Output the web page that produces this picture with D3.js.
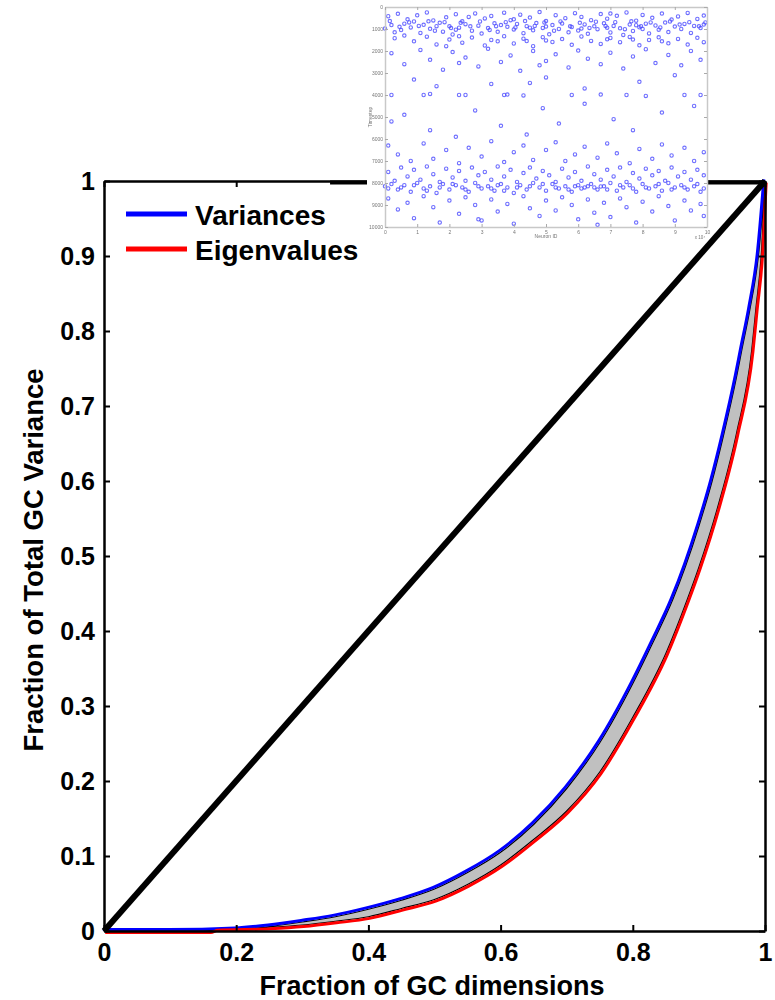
<!DOCTYPE html>
<html>
<head>
<meta charset="utf-8">
<script src="https://cdn.jsdelivr.net/npm/d3@7"></script>
<style>
  html, body { margin: 0; padding: 0; background: #fff; }
  svg { display: block; }
  text { font-family: "Liberation Sans", Arial, sans-serif; }
</style>
</head>
<body>
<svg id="chart" width="775" height="1000"></svg>
<script>
// ---------------- DATA ----------------
const xTicks = [0, 0.2, 0.4, 0.6, 0.8, 1];
const yTicks = [0, 0.1, 0.2, 0.3, 0.4, 0.5, 0.6, 0.7, 0.8, 0.9, 1];
const xLabel = "Fraction of GC dimensions";
const yLabel = "Fraction of Total GC Variance";
const legendLabels = ["Variances", "Eigenvalues"];

// cumulative fraction curves (x = fraction of dimensions, y = fraction of variance)
const variancesX = [0, 0.10, 0.20, 0.25, 0.30, 0.35, 0.40, 0.45, 0.50, 0.55, 0.60, 0.65, 0.70, 0.75, 0.80, 0.83, 0.86, 0.88, 0.90, 0.92, 0.937, 0.957, 0.965, 0.977, 0.990, 1];
const variancesY = [0, 0.000, 0.002, 0.006, 0.012, 0.019, 0.029, 0.041, 0.056, 0.078, 0.105, 0.142, 0.190, 0.251, 0.330, 0.384, 0.441, 0.487, 0.540, 0.600, 0.660, 0.739, 0.775, 0.828, 0.900, 1];
const eigenX = [0, 0.10, 0.160, 0.170, 0.25, 0.30, 0.35, 0.40, 0.45, 0.50, 0.55, 0.60, 0.65, 0.70, 0.75, 0.80, 0.85, 0.882, 0.90, 0.93, 0.957, 0.980, 0.986, 0.995, 1];
const eigenY = [0, 0.000, 0.000, 0.003, 0.005, 0.008, 0.013, 0.019, 0.030, 0.042, 0.062, 0.088, 0.122, 0.160, 0.212, 0.285, 0.370, 0.441, 0.485, 0.570, 0.664, 0.775, 0.828, 0.910, 1];

const diagX = [0, 1];
const diagY = [0, 1];

// inset raster: [neuron ID (x10^4), timestep]
const insetXTicks = [0,1,2,3,4,5,6,7,8,9,10];
const insetYTicks = [0,1000,2000,3000,4000,5000,6000,7000,8000,9000,10000];
const spikesA = [[0.1,420],[0.4,310],[0.7,560],[1.0,380],[1.3,250],[1.5,610],[1.9,470],[2.2,330],[2.4,650],[2.8,290],[3.1,520],[3.3,410],[3.7,260],[3.9,600],[4.2,350],[4.5,480],[4.8,230],[5.0,640],[5.3,370],[5.6,510],[5.9,280],[6.1,450],[6.4,600],[6.7,320],[6.9,530],[7.2,400],[7.5,250],[7.8,620],[8.0,360],[8.3,490],[8.6,300],[8.9,570],[9.1,430],[9.4,270],[9.7,540],[9.9,390],[0.9,660],[2.6,450],[4.0,560],[7.0,300]];
const spikesB = [[0.2,820],[0.5,1050],[0.6,760],[0.8,930],[1.1,1180],[1.2,810],[1.4,990],[1.7,720],[1.8,1120],[2.0,880],[2.1,1250],[2.3,940],[2.5,780],[2.7,1080],[2.9,850],[3.0,1210],[3.2,960],[3.4,740],[3.5,1130],[3.8,900],[4.0,1020],[4.1,770],[4.3,1190],[4.4,870],[4.6,1060],[4.7,730],[4.9,950],[5.1,1240],[5.2,820],[5.4,1000],[5.5,750],[5.7,1150],[5.8,910],[6.0,1070],[6.2,790],[6.3,1220],[6.5,880],[6.6,1010],[6.8,740],[7.0,1160],[7.1,860],[7.3,970],[7.4,1270],[7.6,800],[7.7,1090],[7.9,920],[8.1,760],[8.2,1200],[8.4,840],[8.5,1030],[8.7,710],[8.8,1140],[9.0,890],[9.2,1000],[9.3,770],[9.5,1180],[9.6,860],[9.8,960],[0.3,1150],[1.6,870],[3.6,820],[5.0,890],[6.9,940],[8.0,1000],[9.9,800],[0.0,980],[2.2,1030],[4.5,940],[6.1,980],[7.8,830]];
const spikesB2 = [[0.15,640],[0.45,900],[0.75,700],[1.05,860],[1.35,650],[1.55,1080],[1.85,690],[2.05,960],[2.35,720],[2.65,880],[2.95,660],[3.25,1040],[3.45,870],[3.75,690],[4.05,930],[4.35,640],[4.65,860],[4.95,700],[5.25,1080],[5.45,660],[5.75,880],[6.05,720],[6.35,950],[6.55,670],[6.85,860],[7.15,690],[7.45,1010],[7.65,650],[7.95,870],[8.25,700],[8.55,930],[8.85,660],[9.15,800],[9.45,690],[9.75,880],[9.95,700]];
const spikesC = [[0.3,1420],[0.9,1560],[1.3,1350],[1.6,1700],[2.0,1480],[2.4,1620],[2.7,1390],[3.1,1750],[3.3,1500],[3.7,1330],[4.0,1660],[4.3,1440],[4.6,1780],[4.9,1370],[5.2,1590],[5.5,1460],[5.8,1720],[6.1,1340],[6.4,1540],[6.7,1680],[7.0,1410],[7.3,1600],[7.6,1360],[7.9,1740],[8.2,1500],[8.5,1380],[8.8,1650],[9.1,1450],[9.4,1710],[9.7,1400],[0.6,1300],[1.9,1780],[3.5,1560],[5.0,1520],[6.9,1470],[8.6,1560],[9.9,1600],[2.3,1330],[4.4,1550],[7.7,1480]];
const spikesD = [[0.2,2100],[0.6,2600],[1.1,1950],[1.4,2400],[1.8,2850],[2.1,2050],[2.5,2300],[2.9,2700],[3.2,1900],[3.6,2500],[3.9,2200],[4.2,2900],[4.6,2000],[5.0,2450],[5.3,2150],[5.7,2750],[6.0,1980],[6.3,2350],[6.7,2600],[7.0,2080],[7.4,2800],[7.7,2250],[8.1,1920],[8.4,2550],[8.8,2180],[9.2,2650],[9.5,2000],[9.8,2400],[4.8,2650],[2.3,2550]];
const spikesE = [[0.2,4000],[1.2,4000],[1.4,3950],[2.3,4000],[2.5,4000],[3.7,4000],[3.8,3980],[4.3,4020],[5.8,4000],[6.7,3980],[7.5,4000],[8.1,4040],[9.3,4000],[9.8,4000],[0.9,3300],[3.3,3500],[5.0,3200],[6.2,3700],[7.9,3400],[9.0,3100],[1.6,3600],[4.5,3450]];
const spikesF = [[0.2,5200],[0.6,4900],[1.4,5600],[2.8,4700],[3.6,5400],[4.4,5800],[5.4,5300],[6.2,4400],[7.1,5100],[7.7,5600],[8.6,4800],[9.6,4500],[4.9,4600],[2.2,5900]];
const spikesG = [[0.1,6300],[0.4,6700],[0.8,7000],[1.2,6200],[1.5,6900],[1.9,6500],[2.3,7100],[2.6,6400],[3.0,6800],[3.3,6100],[3.7,7050],[4.0,6600],[4.3,6300],[4.6,6950],[5.0,6500],[5.3,6150],[5.6,7000],[5.9,6700],[6.2,6350],[6.6,6850],[6.9,6200],[7.2,6650],[7.6,7100],[7.9,6450],[8.3,6900],[8.6,6250],[8.9,6750],[9.3,6400],[9.6,7000],[9.9,6600]];
const spikesH = [[0.1,7500],[0.3,7900],[0.5,7300],[0.7,7700],[0.9,7400],[1.1,7850],[1.3,7250],[1.5,7600],[1.7,7950],[1.9,7350],[2.1,7750],[2.3,7450],[2.5,7900],[2.7,7300],[2.9,7650],[3.1,7500],[3.3,7850],[3.5,7250],[3.7,7700],[3.9,7400],[4.1,7950],[4.3,7550],[4.5,7300],[4.7,7800],[4.9,7450],[5.1,7650],[5.3,7950],[5.5,7350],[5.7,7750],[5.9,7500],[6.1,7900],[6.3,7250],[6.5,7600],[6.7,7850],[6.9,7400],[7.1,7700],[7.3,7300],[7.5,7950],[7.7,7550],[7.9,7800],[8.1,7350],[8.3,7650],[8.5,7450],[8.7,7900],[8.9,7300],[9.1,7700],[9.3,7500],[9.5,7850],[9.7,7400],[9.9,7650]];
const spikesI = [[0.0,8150],[0.2,8050],[0.4,8300],[0.6,8100],[0.8,8400],[1.0,8000],[1.2,8250],[1.4,8150],[1.6,8450],[1.8,8050],[2.0,8300],[2.2,8100],[2.4,8200],[2.6,8400],[2.8,8000],[3.0,8250],[3.2,8150],[3.4,8350],[3.6,8050],[3.8,8200],[4.0,8450],[4.2,8100],[4.4,8300],[4.6,8000],[4.8,8200],[5.0,8350],[5.2,8050],[5.4,8250],[5.6,8150],[5.8,8400],[6.0,8100],[6.2,8200],[6.4,8050],[6.6,8300],[6.8,8150],[7.0,8000],[7.2,8350],[7.4,8200],[7.6,8100],[7.8,8400],[8.0,8050],[8.2,8250],[8.4,8150],[8.6,8350],[8.8,8000],[9.0,8200],[9.2,8100],[9.4,8300],[9.6,8150],[9.8,8400],[5.9,8150],[6.3,8150],[6.7,8160],[3.5,8100]];
const spikesI2 = [[0.1,8250],[0.5,8200],[0.9,8100],[1.3,8350],[1.7,8200],[2.1,8050],[2.5,8300],[2.9,8150],[3.3,8250],[3.7,8350],[4.1,8200],[4.5,8150],[4.9,8050],[5.3,8200],[5.7,8300],[6.1,8250],[6.5,8200],[6.9,8300],[7.3,8100],[7.7,8250],[8.1,8200],[8.5,8050],[8.9,8300],[9.3,8200],[9.7,8050],[9.9,8250]];
const spikesJ = [[0.1,8700],[0.4,9200],[0.7,8900],[0.9,9600],[1.2,8600],[1.5,9100],[1.7,9800],[2.0,8800],[2.3,9400],[2.5,8650],[2.8,9000],[3.0,9700],[3.3,8750],[3.5,9300],[3.8,8950],[4.0,9850],[4.3,8600],[4.5,9150],[4.8,9500],[5.0,8800],[5.3,9250],[5.5,8650],[5.8,9000],[6.0,9650],[6.3,8750],[6.5,9350],[6.8,8900],[7.0,9550],[7.3,8700],[7.5,9100],[7.8,9800],[8.0,8850],[8.3,9300],[8.5,8600],[8.8,9050],[9.0,9700],[9.3,8800],[9.5,9250],[9.8,8950],[9.9,9500],[2.9,9650],[6.6,9900]];

// ---------------- DRAW ----------------
const svg = d3.select("#chart");
const x = d3.scaleLinear().domain([0, 1]).range([104, 765]);
const y = d3.scaleLinear().domain([0, 1]).range([931, 181]);
const fmt = d => d3.format("~g")(d);

const variances = variancesX.map((v, i) => [v, variancesY[i]]);
const eigen = eigenX.map((v, i) => [v, eigenY[i]]);
const line = d3.line().x(d => x(d[0])).y(d => y(d[1])).curve(d3.curveMonotoneX);
const straight = d3.line().x(d => x(d[0])).y(d => y(d[1]));

// band between curves
const bandD = line(variances) + "L" + line(eigen.slice().reverse()).slice(1) + "Z";
svg.append("path").attr("d", bandD)
  .attr("fill", "#c0c0c0").attr("stroke", "#000").attr("stroke-width", 1.2);

svg.append("path").attr("d", line(variances)).attr("fill", "none")
  .attr("stroke", "#0000ff").attr("stroke-width", 3).attr("transform", "translate(-1.2,-1.6)");
svg.append("path").attr("d", line(eigen)).attr("fill", "none")
  .attr("stroke", "#ff0000").attr("stroke-width", 3).attr("transform", "translate(1.2,1.6)");

// diagonal
svg.append("path").attr("d", straight(diagX.map((v, i) => [v, diagY[i]])))
  .attr("fill", "none").attr("stroke", "#000").attr("stroke-width", 6);

// axes
function styleAxis(g) {
  g.select(".domain").attr("stroke", "#000").attr("stroke-width", 2.5);
  g.selectAll(".tick line").attr("stroke", "#000").attr("stroke-width", 2);
  g.selectAll(".tick text").attr("fill", "#000").attr("font-size", 25).attr("font-weight", "bold")
    .attr("font-family", "Liberation Sans, Arial, sans-serif");
}
svg.append("g").attr("transform", "translate(0,931)")
  .call(d3.axisBottom(x).tickValues(xTicks).tickFormat(fmt).tickSizeInner(-6).tickSizeOuter(0).tickPadding(12))
  .call(styleAxis);
svg.append("g").attr("transform", "translate(104,0)")
  .call(d3.axisLeft(y).tickValues(yTicks).tickFormat(fmt).tickSizeInner(-6).tickSizeOuter(0).tickPadding(9))
  .call(styleAxis);
svg.append("g").attr("transform", "translate(765,0)")
  .call(d3.axisRight(y).tickValues(yTicks).tickFormat("").tickSizeInner(-6).tickSizeOuter(0))
  .call(styleAxis);
svg.append("g").attr("transform", "translate(0,181)")
  .call(d3.axisTop(x).tickValues(xTicks).tickFormat("").tickSizeInner(-6).tickSizeOuter(0))
  .call(styleAxis);
// heavier segment of the top frame
svg.append("line").attr("x1", x(0.342)).attr("x2", x(1)).attr("y1", y(1) + 1.5).attr("y2", y(1) + 1.5)
  .attr("stroke", "#000").attr("stroke-width", 4);

// axis labels
svg.append("text").attr("x", 432).attr("y", 995).attr("text-anchor", "middle")
  .attr("font-size", 27).attr("font-weight", "bold").text(xLabel);
svg.append("text").attr("transform", "translate(43,560) rotate(-90)").attr("text-anchor", "middle")
  .attr("font-size", 27.5).attr("font-weight", "bold").text(yLabel);

// legend
const legColors = ["#0000ff", "#ff0000"];
legendLabels.forEach((lab, i) => {
  const yy = 214 + i * 35;
  svg.append("line").attr("x1", 126).attr("x2", 187).attr("y1", yy).attr("y2", yy)
    .attr("stroke", legColors[i]).attr("stroke-width", 5);
  svg.append("text").attr("x", 195).attr("y", yy + 11).attr("font-size", 28).attr("font-weight", "bold")
    .attr("fill", "#000").text(lab);
});

// ---------------- INSET ----------------
const defs = svg.append("defs");
defs.append("filter").attr("id", "blur").append("feGaussianBlur").attr("stdDeviation", 0.7);

const inset = svg.append("g");
inset.append("rect").attr("x", 367).attr("y", 0).attr("width", 341).attr("height", 236).attr("fill", "#fff");
const ig = inset.append("g").attr("filter", "url(#blur)");
const ix = d3.scaleLinear().domain([0, 10]).range([385, 707]);
const iy = d3.scaleLinear().domain([0, 10000]).range([7, 227]);

const allSpikes = [].concat(spikesA, spikesB, spikesB2, spikesC, spikesD, spikesE, spikesF, spikesG, spikesH, spikesI, spikesI2, spikesJ);
ig.selectAll("circle").data(allSpikes).enter().append("circle")
  .attr("cx", d => ix(d[0])).attr("cy", d => iy(d[1])).attr("r", 1.7)
  .attr("fill", "none").attr("stroke", "#4a4aff").attr("stroke-opacity", 0.8).attr("stroke-width", 1.1);

function styleInset(g) {
  g.select(".domain").attr("stroke", "#c8c8c8").attr("stroke-width", 1.5);
  g.selectAll(".tick line").attr("stroke", "#aaa").attr("stroke-width", 1);
  g.selectAll(".tick text").attr("fill", "#777").attr("font-size", 5)
    .attr("font-family", "Liberation Sans, Arial, sans-serif");
}
const intFmt = d3.format("d");
ig.append("g").attr("transform", "translate(0,227)")
  .call(d3.axisBottom(ix).tickValues(insetXTicks).tickFormat(intFmt).tickSizeInner(-3).tickSizeOuter(0).tickPadding(3))
  .call(styleInset);
ig.append("g").attr("transform", "translate(385,0)")
  .call(d3.axisLeft(iy).tickValues(insetYTicks).tickFormat(intFmt).tickSizeInner(-3).tickSizeOuter(0).tickPadding(2))
  .call(styleInset);
ig.append("g").attr("transform", "translate(0,7)")
  .call(d3.axisTop(ix).tickValues(insetXTicks).tickFormat("").tickSizeInner(-3).tickSizeOuter(0))
  .call(styleInset);
ig.append("g").attr("transform", "translate(707,0)")
  .call(d3.axisRight(iy).tickValues(insetYTicks).tickFormat("").tickSizeInner(-3).tickSizeOuter(0))
  .call(styleInset);
ig.append("text").attr("x", 546).attr("y", 238).attr("text-anchor", "middle")
  .attr("font-size", 5).attr("fill", "#777").text("Neuron ID");
ig.append("text").attr("x", 700).attr("y", 239).attr("text-anchor", "middle")
  .attr("font-size", 4.5).attr("fill", "#777").text("x 10⁴");
ig.append("text").attr("transform", "translate(372,117) rotate(-90)").attr("text-anchor", "middle")
  .attr("font-size", 5).attr("fill", "#777").text("Timestep");
</script>
</body>
</html>
